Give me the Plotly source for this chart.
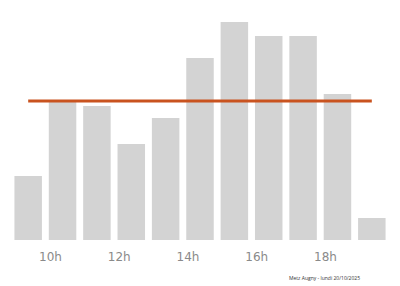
import plotly.graph_objects as go
import numpy as np

hours = [9, 10, 11, 12, 13, 14, 15, 16, 17, 18, 19]
values = [32, 69, 67, 48, 61, 91, 109, 102, 102, 73, 11]
tick_hours = [10, 12, 14, 16, 18]
tick_labels = ["10h", "12h", "14h", "16h", "18h"]
caption = "Metz Augny - lundi 20/10/2025"

mean_val = float(np.mean(values))

fig = go.Figure()
fig.add_trace(go.Bar(x=hours, y=values, marker=dict(color="#d3d3d3", line=dict(width=0)),
                     hoverinfo="skip"))
fig.add_trace(go.Scatter(x=[hours[0], hours[-1]], y=[mean_val, mean_val], mode="lines",
                         line=dict(color="#c9531f", width=3), hoverinfo="skip"))

fig.update_layout(
    width=400, height=286,
    margin=dict(l=11, r=11, t=10, b=46),
    paper_bgcolor="white", plot_bgcolor="white",
    showlegend=False, bargap=0.2,
    font=dict(family="DejaVu Sans", color="#8a8a8a"),
    xaxis=dict(range=[8.5, 19.5], tickvals=[h - 0.35 for h in tick_hours], ticktext=tick_labels,
               showgrid=False, zeroline=False, showline=False, ticks="",
               ticklabelstandoff=8,
               tickfont=dict(family="DejaVu Sans", size=12, color="#8a8a8a")),
    yaxis=dict(range=[0, 115], visible=False, showgrid=False, zeroline=False),
    annotations=[dict(text=caption, xref="paper", yref="paper", x=0.83, y=-0.165,
                      xanchor="center", yanchor="middle", showarrow=False,
                      font=dict(family="Open Sans", size=5, color="#333333"))],
)
fig.write_html("out.html")
